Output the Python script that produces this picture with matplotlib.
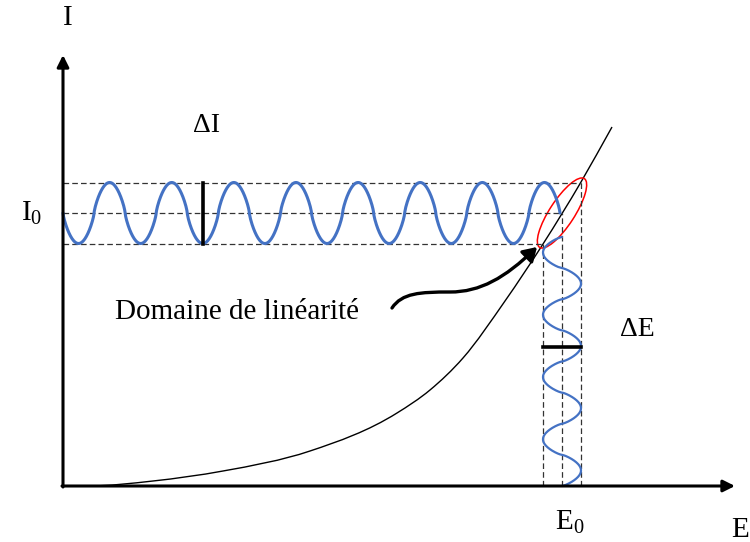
import numpy as np
import matplotlib
matplotlib.use("Agg")
import matplotlib.pyplot as plt
from matplotlib.patches import Ellipse, FancyArrowPatch, PathPatch
from matplotlib.path import Path

plt.rcParams['font.family'] = ['Liberation Serif', 'DejaVu Serif']
plt.rcParams['mathtext.fontset'] = 'custom'
plt.rcParams['mathtext.rm'] = 'Liberation Serif'
plt.rcParams['mathtext.it'] = 'Liberation Serif'

# I(E) characteristic, read point by point (arbitrary units)
curve_E = [25, 90, 160, 247, 334, 367, 400, 442, 480, 518, 549]
curve_I = [0, 5, 15, 35, 73, 96, 128, 185, 242, 304, 359]

# operating point and modulation
E0, I0 = 499, 273
dE_half, dI_half = 19, 30.5
n_periods_I, n_periods_E = 8, 4
I_wave_end = 497       # E where the current sine stops
E_wave_end = 249       # I where the potential sine stops

# axes extent
E_axis_end, I_axis_end = 672, 431

# marker bars for the amplitudes
dI_bar_E = 140
dE_bar_I = 139


def smooth_path(xs, ys):
    # cubic Hermite through the points (x increasing), as Bezier segments
    x = np.asarray(xs, float)
    y = np.asarray(ys, float)
    h = np.diff(x)
    d = np.diff(y) / h
    m = np.empty_like(x)
    m[0] = 0.0                      # leaves the E axis tangentially
    m[-1] = d[-1]
    m[1:-1] = (d[:-1] * h[1:] + d[1:] * h[:-1]) / (h[:-1] + h[1:])
    verts, codes = [(x[0], y[0])], [Path.MOVETO]
    for k in range(len(x) - 1):
        verts += [(x[k] + h[k] / 3, y[k] + m[k] * h[k] / 3),
                  (x[k + 1] - h[k] / 3, y[k + 1] - m[k + 1] * h[k] / 3),
                  (x[k + 1], y[k + 1])]
        codes += [Path.CURVE4] * 3
    return Path(verts, codes)


def wave(t):
    # rounded sine: crests a little fuller than a plain sine
    s = np.sin(t)
    return np.sign(s) * np.abs(s) ** 0.75


fig = plt.figure(figsize=(7.5, 5.42), dpi=100)
ax = fig.add_axes([0, 0, 1, 1])
ax.set_xlim(-63, 687)
ax.set_ylim(-56, 486)
ax.axis('off')

blue = '#4472C4'
dash = dict(color='#333333', lw=0.9, ls=(0, (4.5, 2.5)))

# guide lines
ax.plot([0, E0 + dE_half], [I0 + dI_half] * 2, **dash)
ax.plot([0, E0], [I0] * 2, **dash)
ax.plot([0, E0 - dE_half], [I0 - dI_half] * 2, **dash)
ax.plot([E0 - dE_half] * 2, [0, I0 - dI_half], **dash)
ax.plot([E0] * 2, [0, I0], **dash)
ax.plot([E0 + dE_half] * 2, [0, I0 + dI_half], **dash)

# current response (horizontal) and potential perturbation (vertical)
e = np.linspace(0, I_wave_end, 1000)
ax.plot(e, I0 - dI_half * wave(2 * np.pi * n_periods_I * e / I_wave_end),
        color=blue, lw=2.2, solid_capstyle='round')
i = np.linspace(0, E_wave_end, 600)
ax.plot(E0 + dE_half * wave(2 * np.pi * n_periods_E * i / E_wave_end), i,
        color=blue, lw=1.6, solid_capstyle='round')

# characteristic curve
ax.add_patch(PathPatch(smooth_path(curve_E, curve_I), fill=False,
                       edgecolor='black', lw=1.0))

# amplitude bars
ax.plot([dI_bar_E] * 2, [I0 - dI_half, I0 + dI_half], color='black', lw=2.6)
ax.plot([E0 - dE_half, E0 + dE_half], [dE_bar_I] * 2, color='black', lw=2.6)

# linear region
ax.add_patch(Ellipse((E0, I0), 82, 25, angle=57, fill=False,
                     edgecolor='red', lw=1.1))

# axes with arrow heads
ax.annotate('', xy=(0, I_axis_end), xytext=(0, -1),
            arrowprops=dict(arrowstyle='-|>,head_length=0.7,head_width=0.35',
                            color='black', lw=2.2, shrinkA=0, shrinkB=0))
ax.annotate('', xy=(E_axis_end, 0), xytext=(-1, 0),
            arrowprops=dict(arrowstyle='-|>,head_length=0.7,head_width=0.35',
                            color='black', lw=2.2, shrinkA=0, shrinkB=0))

# curved pointer to the linear region
verts = [(329, 178), (339, 193), (357, 194), (387, 194),
         (417, 194), (442, 208), (474, 239)]
codes = [Path.MOVETO] + [Path.CURVE4] * 6
ax.add_patch(FancyArrowPatch(path=Path(verts, codes),
                             arrowstyle='-|>,head_length=8,head_width=5',
                             color='black', lw=2.4, shrinkA=0, shrinkB=0))

# labels
ax.text(5, 468, 'I', fontsize=21, ha='center', va='center')
ax.text(677, -44, 'E', fontsize=21, ha='center', va='center')
ax.text(-31, 273, r'$\mathrm{I}_0$', fontsize=21, ha='center', va='center')
ax.text(507, -36, r'$\mathrm{E}_0$', fontsize=21, ha='center', va='center')
ax.text(144, 361, 'ΔI', fontsize=20, ha='center', va='center')
ax.text(574, 156, 'ΔE', fontsize=20, ha='center', va='center')
ax.text(52, 174, 'Domaine de linéarité', fontsize=21, ha='left', va='center')

fig.savefig('out.png', dpi=100)
